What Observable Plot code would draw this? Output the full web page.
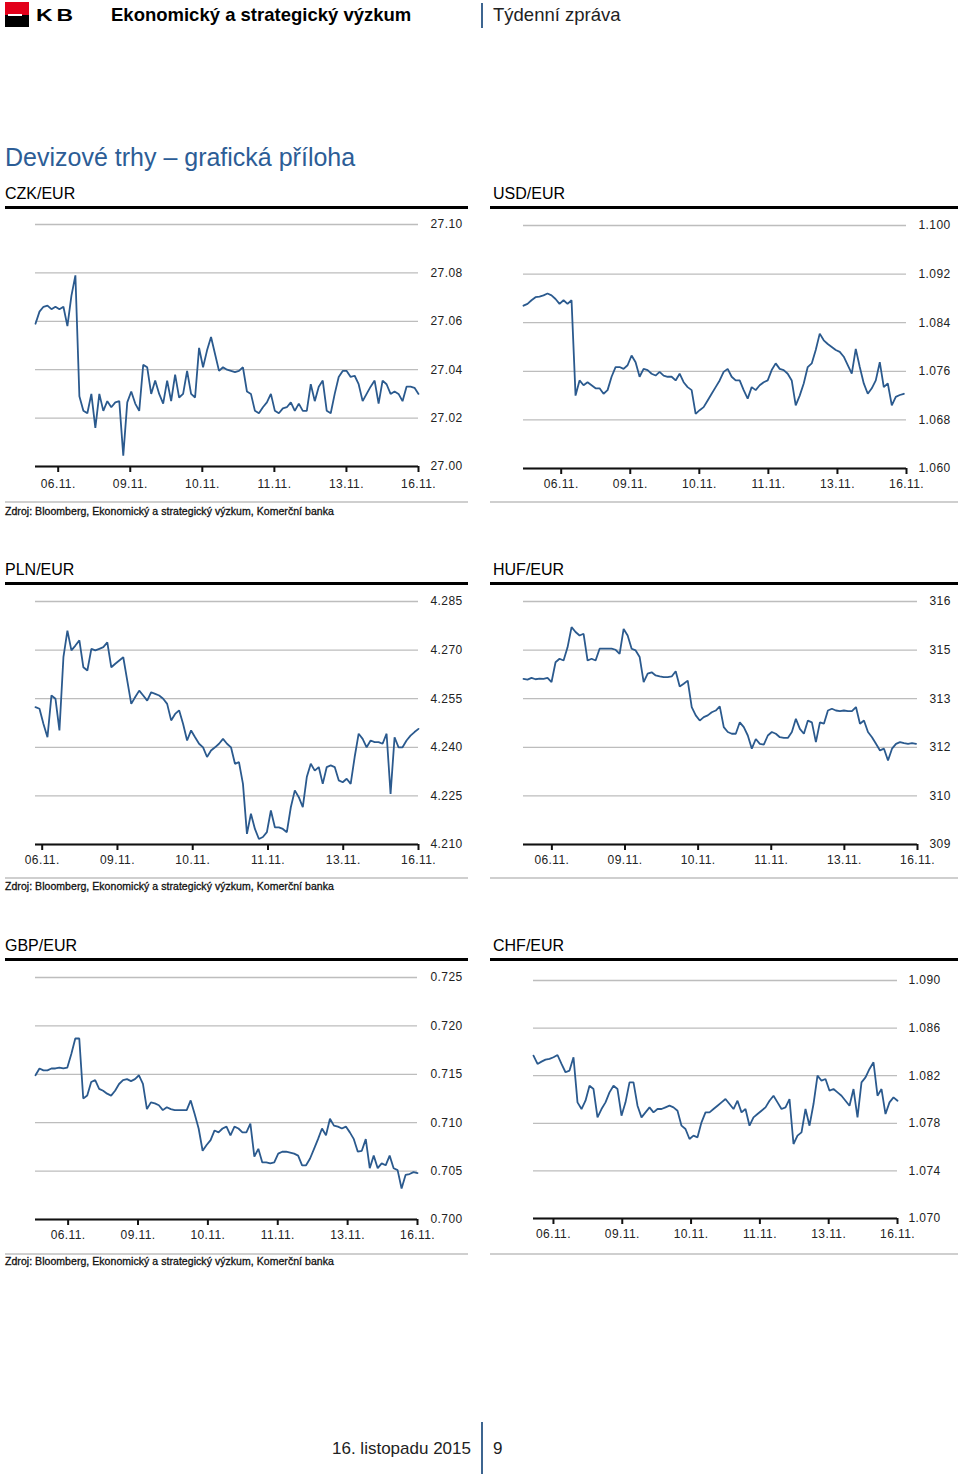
<!DOCTYPE html>
<html><head><meta charset="utf-8">
<script src="https://cdn.jsdelivr.net/npm/d3@7"></script>
<script src="https://cdn.jsdelivr.net/npm/@observablehq/plot@0.6"></script>
<style>
body{margin:0;background:#fff;font-family:"Liberation Sans",Arial,sans-serif;}
#page{position:relative;width:960px;height:1478px;overflow:hidden;background:#fff;}
.a{position:absolute;white-space:nowrap;line-height:1;}
.box{position:absolute;}
svg{position:absolute;overflow:visible;}
</style></head><body><div id="page"></div>
<script>
// ---- tick labels (trading days) ----
const dayTicks = [0, 1, 2, 3, 4, 5];
const dayLabels = ["06.11.", "09.11.", "10.11.", "11.11.", "13.11.", "16.11."];

// ---- series (regularly sampled intraday quotes) ----
const czkValues = [27.059,27.064,27.066,27.0665,27.065,27.066,27.065,27.066,27.058,27.0705,27.079,27.029,27.023,27.022,27.030,27.016,27.030,27.023,27.027,27.0245,27.0265,27.027,27.0045,27.0265,27.031,27.026,27.023,27.042,27.041,27.030,27.0355,27.030,27.026,27.0355,27.027,27.038,27.0285,27.030,27.0395,27.030,27.0285,27.049,27.041,27.048,27.0535,27.0465,27.0395,27.041,27.040,27.0395,27.039,27.0395,27.041,27.031,27.030,27.023,27.022,27.0245,27.0265,27.030,27.023,27.022,27.024,27.0245,27.0265,27.023,27.026,27.023,27.023,27.034,27.027,27.033,27.0355,27.023,27.022,27.030,27.037,27.0395,27.0395,27.037,27.0375,27.034,27.027,27.030,27.033,27.0355,27.026,27.0355,27.034,27.030,27.031,27.030,27.027,27.033,27.033,27.0325,27.030];
const czkTicks = [27.00, 27.02, 27.04, 27.06, 27.08, 27.10];

const usdValues = [1.0868,1.0871,1.0877,1.0882,1.0883,1.0885,1.0888,1.0885,1.0879,1.0871,1.0877,1.0871,1.0877,1.0720,1.0745,1.0737,1.0742,1.0737,1.0732,1.0732,1.0723,1.0729,1.0751,1.0767,1.0767,1.0764,1.0770,1.0786,1.0775,1.0751,1.0764,1.0762,1.0756,1.0753,1.0759,1.0753,1.0751,1.0751,1.0745,1.0756,1.0742,1.0734,1.0729,1.0690,1.0696,1.0701,1.0712,1.0723,1.0734,1.0745,1.0759,1.0764,1.0751,1.0745,1.0745,1.0729,1.0715,1.0734,1.0729,1.0737,1.0742,1.0745,1.0762,1.0773,1.0764,1.0762,1.0756,1.0745,1.0704,1.0720,1.0740,1.0767,1.0773,1.0795,1.0822,1.0811,1.0805,1.0800,1.0795,1.0792,1.0784,1.0770,1.0756,1.0797,1.0767,1.0740,1.0723,1.0732,1.0745,1.0775,1.0734,1.0740,1.0704,1.0718,1.0721,1.0723];
const usdTicks = [1.060, 1.068, 1.076, 1.084, 1.092, 1.100];

const plnValues = [4.2524,4.2519,4.2472,4.2431,4.2560,4.2550,4.2452,4.2678,4.2760,4.2699,4.2714,4.2730,4.2647,4.2637,4.2704,4.2699,4.2704,4.2709,4.2724,4.2647,4.2658,4.2668,4.2678,4.2606,4.2534,4.2555,4.2575,4.2560,4.2544,4.2570,4.2565,4.2560,4.2550,4.2534,4.2483,4.2503,4.2514,4.2472,4.2421,4.2452,4.2431,4.2411,4.2400,4.2370,4.2390,4.2400,4.2411,4.2426,4.2411,4.2400,4.2349,4.2354,4.2287,4.2133,4.2195,4.2148,4.2117,4.2123,4.2138,4.2205,4.2153,4.2153,4.2148,4.2138,4.2215,4.2267,4.2246,4.2215,4.2308,4.2349,4.2328,4.2339,4.2287,4.2339,4.2344,4.2339,4.2298,4.2292,4.2303,4.2287,4.2370,4.2442,4.2426,4.2400,4.2421,4.2416,4.2416,4.2411,4.2442,4.2256,4.2431,4.2400,4.2400,4.2421,4.2436,4.2447,4.2457];
const plnTicks = [4.210, 4.225, 4.240, 4.255, 4.270, 4.285];

const hufValues = [313.77,313.75,313.80,313.76,313.78,313.77,313.80,313.68,314.25,314.35,314.30,314.68,315.26,315.12,315.02,315.07,314.30,314.35,314.30,314.64,314.64,314.64,314.64,314.61,314.49,315.21,315.02,314.64,314.59,314.40,313.68,313.92,313.96,313.87,313.84,313.82,313.82,313.84,313.99,313.55,313.63,313.72,312.96,312.72,312.57,312.67,312.72,312.81,312.86,312.98,312.38,312.24,312.19,312.19,312.52,312.38,312.14,311.76,312.04,311.90,311.88,312.14,312.24,312.19,312.09,312.07,312.07,312.24,312.62,312.33,312.19,312.57,312.52,311.95,312.52,312.48,312.86,312.91,312.86,312.84,312.86,312.84,312.84,312.96,312.48,312.57,312.24,312.09,311.90,311.71,311.76,311.42,311.76,311.90,311.95,311.92,311.90,311.92,311.90];
const hufTicks = [309, 310.4, 311.8, 313.2, 314.6, 316];

const gbpValues = [0.7149,0.7156,0.7154,0.7154,0.7156,0.7156,0.7157,0.7156,0.7157,0.7171,0.7187,0.7187,0.7125,0.7128,0.7142,0.7144,0.7135,0.7133,0.7130,0.7128,0.7133,0.7140,0.7144,0.7145,0.7143,0.7145,0.7149,0.7140,0.7114,0.7121,0.7120,0.7118,0.7113,0.7116,0.7114,0.7113,0.7113,0.7113,0.7113,0.7123,0.7109,0.7094,0.7071,0.7077,0.7082,0.7092,0.7090,0.7094,0.7096,0.7087,0.7096,0.7094,0.7090,0.7090,0.7099,0.7065,0.7073,0.7059,0.7059,0.7058,0.7059,0.7068,0.7070,0.7070,0.7069,0.7068,0.7066,0.7056,0.7056,0.7063,0.7073,0.7083,0.7094,0.7087,0.7104,0.7097,0.7096,0.7094,0.7096,0.7090,0.7083,0.7070,0.7071,0.7083,0.7053,0.7066,0.7053,0.7058,0.7056,0.7066,0.7053,0.7051,0.7032,0.7046,0.7047,0.7049,0.7048];
const gbpTicks = [0.700, 0.705, 0.710, 0.715, 0.720, 0.725];

const chfValues = [1.08369,1.08299,1.08318,1.08335,1.08341,1.08355,1.08374,1.08299,1.08229,1.08243,1.08355,1.07976,1.07920,1.07990,1.08116,1.08088,1.07850,1.07920,1.07976,1.08060,1.08116,1.08088,1.07864,1.07976,1.08144,1.08144,1.07948,1.07850,1.07892,1.07934,1.07892,1.07920,1.07920,1.07934,1.07948,1.07934,1.07906,1.07780,1.07752,1.07668,1.07696,1.07682,1.07808,1.07892,1.07892,1.07920,1.07948,1.07976,1.08004,1.07962,1.07920,1.07990,1.07892,1.07920,1.07780,1.07850,1.07878,1.07906,1.07934,1.07990,1.08032,1.07976,1.07920,1.07934,1.08004,1.07626,1.07696,1.07724,1.07920,1.07780,1.07962,1.08201,1.08158,1.08172,1.08074,1.08088,1.08060,1.08032,1.07990,1.07948,1.08088,1.07850,1.08144,1.08186,1.08257,1.08313,1.08032,1.08088,1.07878,1.07976,1.08018,1.07990];
const chfTicks = [1.070, 1.074, 1.078, 1.082, 1.086, 1.090];

// ---- page ----
const page = document.getElementById("page");
const FONT = '"Liberation Sans", Arial, sans-serif';
function txt(x, cy, size, s, o = {}) {
  const d = document.createElement("div");
  d.className = "a";
  d.textContent = s;
  d.style.left = x + "px";
  d.style.top = (cy - 0.5 * size) + "px";
  d.style.fontSize = size + "px";
  d.style.color = o.color || "#111";
  if (o.weight) d.style.fontWeight = o.weight;
  if (o.ls) d.style.letterSpacing = o.ls + "px";
  if (o.stroke) d.style.webkitTextStroke = o.stroke;
  if (o.sx) { d.style.transform = "scaleX(" + o.sx + ")"; d.style.transformOrigin = "left center"; }
  page.appendChild(d);
  return d;
}
function box(x, y, w, h, bg) {
  const d = document.createElement("div");
  d.className = "box";
  Object.assign(d.style, {left: x + "px", top: y + "px", width: w + "px", height: h + "px", background: bg});
  page.appendChild(d);
}

// header
box(5, 2, 24, 13, "#e2001a");
box(5, 15, 24, 12, "#000");
box(8, 14.3, 14, 2, "#fff");
txt(36, 15, 17, "KB", {weight: "bold", ls: 3, color: "#000", sx: 1.35});
txt(111, 15, 18.5, "Ekonomický a strategický výzkum", {weight: "bold", color: "#000"});
box(481, 3, 2, 25, "#3d6590");
txt(493, 15, 18.5, "Týdenní zpráva", {color: "#222"});

// main title
txt(5, 157, 25, "Devizové trhy – grafická příloha", {color: "#2c5d96"});

// footer
txt(332, 1448, 17, "16. listopadu 2015", {color: "#222"});
box(481, 1422, 2, 52, "#3d6590");
txt(493, 1448, 17, "9", {color: "#222"});

// chart frame decorations
const titles = [["CZK/EUR", "USD/EUR"], ["PLN/EUR", "HUF/EUR"], ["GBP/EUR", "CHF/EUR"]];
const rowOff = [0, 376, 752];
const srcOff = [0, 375, 750];
const source = "Zdroj: Bloomberg, Ekonomický a strategický výzkum, Komerční banka";
titles.forEach((pair, r) => {
  const dy = rowOff[r];
  txt(5, 193.5 + dy, 16, pair[0], {color: "#000"});
  txt(493, 193.5 + dy, 16, pair[1], {color: "#000"});
  box(5, 205.5 + dy, 463, 3, "#000");
  box(490, 205.5 + dy, 468, 3, "#000");
  box(5, 501 + dy, 463, 2, "#cfcfcf");
  box(490, 501 + dy, 468, 2, "#cfcfcf");
  txt(5, 511.5 + srcOff[r], 10.5, source, {color: "#111", stroke: "0.3px #111", ls: 0.05});
});

// ---- charts ----
function chart(cfg) {
  const n = cfg.values.length;
  const data = cfg.values.map((v, i) => ({t: cfg.t0 + i * (cfg.t1 - cfg.t0) / (n - 1), v}));
  const svg = Plot.plot({
    width: 480, height: cfg.height,
    marginLeft: cfg.ml, marginRight: cfg.mr, marginTop: cfg.mt, marginBottom: cfg.mb,
    x: {domain: [cfg.xMin, 5]},
    y: {domain: [cfg.ticks[0], cfg.ticks[cfg.ticks.length - 1]]},
    style: {fontFamily: FONT, fontSize: "12px", letterSpacing: "0.4px", color: "#222", background: "transparent", overflow: "visible"},
    marks: [
      Plot.gridY(cfg.ticks, {stroke: "#bdbdbd", strokeOpacity: 1, strokeWidth: 1.3}),
      Plot.axisY(cfg.ticks, {anchor: "right", tickSize: 0, tickPadding: cfg.padY, tickFormat: cfg.fmt, label: null}),
      Plot.ruleY([cfg.ticks[0]], {stroke: "#111", strokeWidth: 2}),
      Plot.axisX(dayTicks, {tickSize: 6, tickPadding: cfg.padX, tickFormat: i => dayLabels[i], label: null, stroke: "#111", strokeWidth: 2}),
      Plot.line(data, {x: "t", y: "v", stroke: "#2b5a8e", strokeWidth: 1.8, strokeLinejoin: "miter"})
    ]
  });
  svg.style.left = cfg.left + "px";
  svg.style.top = cfg.top + "px";
  page.appendChild(svg);
}

const f2 = d3.format(".2f"), f3 = d3.format(".3f"), f0 = d3.format(".0f");
chart({values: czkValues, t0: -0.315, t1: 5.0, xMin: -0.315, ticks: czkTicks, fmt: f2,
  left: 0, top: 214, height: 280, ml: 35, mr: 62, mt: 10, mb: 28, padY: 12, padX: 7});
chart({values: usdValues, t0: -0.546, t1: 4.961, xMin: -0.546, ticks: usdTicks, fmt: f3,
  left: 480, top: 214, height: 282, ml: 43, mr: 54, mt: 11, mb: 28, padY: 12, padX: 5});
chart({values: plnValues, t0: -0.089, t1: 5.0, xMin: -0.089, ticks: plnTicks, fmt: f3,
  left: 0, top: 590, height: 282, ml: 35, mr: 62, mt: 11, mb: 28, padY: 12, padX: 5});
chart({values: hufValues, t0: -0.388, t1: 4.98, xMin: -0.388, ticks: hufTicks, fmt: f0,
  left: 480, top: 590, height: 282, ml: 43, mr: 43, mt: 11, mb: 28, padY: 12, padX: 5});
chart({values: gbpValues, t0: -0.467, t1: 5.0, xMin: -0.467, ticks: gbpTicks, fmt: f3,
  left: 0, top: 966, height: 281, ml: 35, mr: 63, mt: 11, mb: 28, padY: 13, padX: 5});
chart({values: chfValues, t0: -0.29, t1: 5.0, xMin: -0.29, ticks: chfTicks, fmt: f3,
  left: 480, top: 966, height: 280, ml: 53, mr: 63, mt: 14, mb: 28, padY: 11, padX: 5});
</script>
</body></html>
